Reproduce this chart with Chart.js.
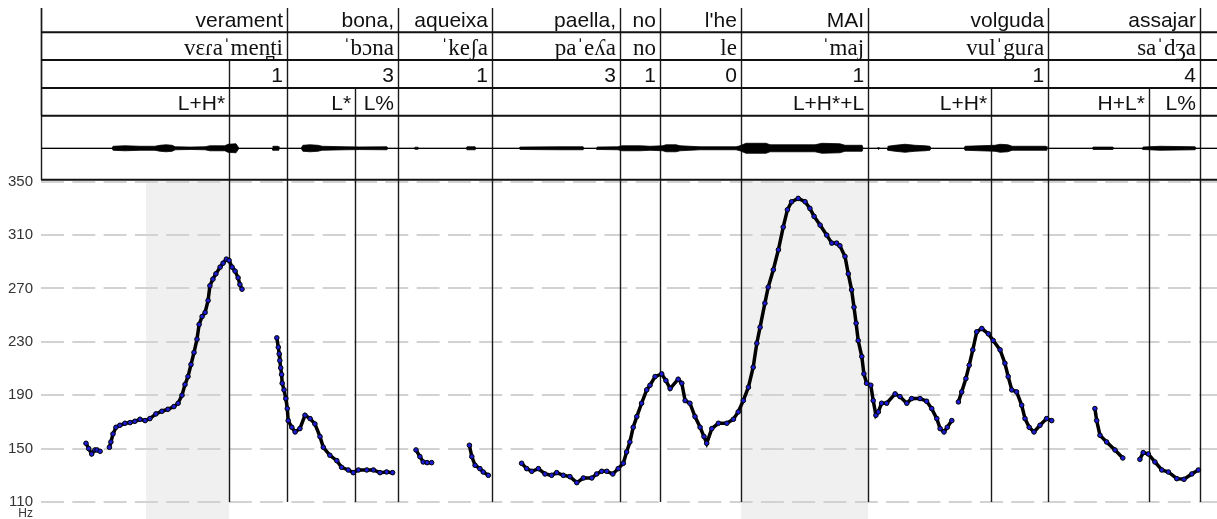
<!DOCTYPE html>
<html>
<head>
<meta charset="utf-8">
<title>verament bona aqueixa paella</title>
<script src="https://cdn.jsdelivr.net/npm/chart.js"></script>
<style>
  html, body { margin: 0; padding: 0; background: #fff; }
  canvas { display: block; }
</style>
</head>
<body>
<canvas id="pitchChart" width="1217" height="519"></canvas>
<script>
// time axis in seconds, pitch in Hz
var tMax = 3.92;
var yTicks = [110, 150, 190, 230, 270, 310, 350];

// tier 1: words
var wordBounds = [0, 0.820, 1.190, 1.503, 1.930, 2.063, 2.333, 2.757, 3.357, 3.863];
var words = ["verament", "bona,", "aqueixa", "paella,", "no", "l'he", "MAI", "volguda", "assajar"];
// tier 2: transcription (same intervals as the words)
var ipaWords = ["vɛɾaˈmen̪ti", "ˈbɔna", "ˈkeʃa", "paˈeʎa", "no", "le", "ˈmaj", "vulˈguɾa", "saˈdʒa"];
// tier 3: break indices
var breakBounds = [0, 0.627, 0.820, 1.190, 1.503, 1.930, 2.063, 2.333, 2.757, 3.357, 3.863];
var breaks = ["", "1", "3", "1", "3", "1", "0", "1", "1", "4"];
// tier 4: tones
var toneBounds = [0, 0.627, 0.820, 1.047, 1.190, 1.503, 1.930, 2.063, 2.333, 2.757, 3.167, 3.357, 3.693, 3.863];
var tones = ["L+H*", "", "L*", "L%", "", "", "", "", "L+H*+L", "L+H*", "", "H+L*", "L%"];

// shaded stressed syllables
var focusStart = [0.350, 2.333];
var focusEnd = [0.627, 2.757];

// pitch track (null = unvoiced gap)
var pitchT = [
  0.150, 0.159, 0.169, 0.180, 0.187, 0.197, null,
  0.228, 0.233, 0.240, 0.250, 0.263, 0.280, 0.297, 0.313, 0.330, 0.347, 0.363, 0.383, 0.403, 0.423,
  0.443, 0.457, 0.470, 0.480, 0.490, 0.500, 0.510, 0.520, 0.527, 0.537, 0.547, 0.557, 0.563, 0.573,
  0.583, 0.597, 0.607, 0.618, 0.627, 0.637, 0.647, 0.657, 0.663, 0.670, null,
  0.786, 0.791, 0.794, 0.796, 0.799, 0.802, 0.804, 0.810, 0.816, 0.821, 0.824, 0.836, 0.847, 0.863,
  0.880, 0.897, 0.913, 0.930, 0.941, 0.963, 0.986, 1.002, 1.024, 1.041, 1.058, 1.086, 1.108, 1.130,
  1.152, 1.172, null,
  1.250, 1.263, 1.274, 1.287, 1.302, null,
  1.428, 1.436, 1.447, 1.463, 1.474, 1.491, null,
  1.602, 1.619, 1.636, 1.658, 1.680, 1.702, 1.719, 1.741, 1.763, 1.786, 1.808, 1.836, 1.852, 1.869,
  1.886, 1.906, 1.924, 1.941, 1.952, 1.963, 1.974, 1.986, 2.002, 2.019, 2.030, 2.047, 2.069, 2.083,
  2.097, 2.124, 2.136, 2.147, 2.163, 2.180, 2.197, 2.210, 2.219, 2.236, 2.258, 2.286, 2.308, 2.324,
  2.341, 2.358, 2.374, 2.386, 2.397, 2.413, 2.424, 2.441, 2.458, 2.474, 2.488, 2.502, 2.524, 2.547,
  2.563, 2.577, 2.597, 2.619, 2.636, 2.652, 2.663, 2.680, 2.691, 2.702, 2.710, 2.717, 2.724, 2.736,
  2.743, 2.752, 2.766, 2.774, 2.783, 2.791, 2.802, 2.819, 2.847, 2.863, 2.886, 2.902, 2.930, 2.952,
  2.969, 2.986, 2.997, 3.010, 3.021, 3.036, null,
  3.058, 3.069, 3.083, 3.094, 3.106, 3.119, 3.136, 3.158, 3.174, 3.197, 3.213, 3.224, 3.236, 3.252,
  3.269, 3.280, 3.294, 3.310, 3.330, 3.352, 3.369, null,
  3.513, 3.519, 3.530, 3.552, 3.580, 3.606, null,
  3.663, 3.674, 3.691, 3.713, 3.736, 3.758, 3.786, 3.810, 3.836, 3.858
];
var pitchHz = [
  154, 150, 146, 149, 149, 148, null,
  151, 155, 161, 166, 167.5, 169, 169.5, 170.5, 172, 171, 172.5, 176, 178, 179.5,
  181.5, 184, 190, 198, 204, 213, 222, 232, 243, 249, 252, 261, 272, 277,
  281, 286, 289, 292, 291, 286, 283, 278, 273, 269.5, null,
  233, 226, 221, 216, 210.5, 205.5, 199, 194, 187.5, 180, 171, 166, 162.5, 165,
  175, 172.5, 168.5, 159, 151, 145, 141, 136, 134, 132, 134, 134, 134, 132,
  132.5, 132, null,
  149, 144, 140, 139.5, 139.5, null,
  152.5, 144, 137.5, 135, 132.5, 130, null,
  139, 135, 133, 135, 131, 130, 132, 130, 129, 124.5, 128, 128, 131, 133,
  133, 131, 135, 139, 147.5, 155, 166, 174, 184, 194, 197.5, 204, 206, 201,
  195, 202, 199, 186, 184, 174, 166, 159, 154, 165, 169, 169, 172, 177.5,
  186, 196, 211, 229, 241, 259, 271, 284, 299, 316, 329, 335, 337.5, 335,
  330, 324, 317.5, 310, 304, 304, 302, 294, 281, 269, 256, 244, 231, 219,
  206, 199, 197.5, 186, 175, 177.5, 184, 184, 191, 189, 184, 187.5, 187.5, 185.5,
  180, 172.5, 165, 162.5, 166, 171, null,
  185, 192.5, 202.5, 212.5, 224, 237.5, 240, 236, 231, 224, 214, 204, 194, 192.5,
  182.5, 172.5, 166, 162.5, 167.5, 172.5, 171, null,
  180, 171, 160, 155, 149, 143, null,
  142, 147, 146, 140, 134, 132.5, 127.5, 127, 131, 134
];

// waveform envelope (relative amplitude)
var waveT = [
  0, 0.237, 0.240, 0.280, 0.330, 0.380, 0.397, 0.417, 0.437, 0.447, 0.497, 0.547, 0.563, 0.613,
  0.623, 0.650, 0.660, 0.770, 0.773, 0.790, 0.793, 0.867, 0.873, 0.897, 0.923, 0.937, 1.013, 1.063,
  1.153, 1.157, 1.243, 1.247, 1.257, 1.260, 1.417, 1.420, 1.447, 1.450, 1.593, 1.597, 1.730, 1.807,
  1.810, 1.850, 1.853, 1.923, 1.937, 1.997, 2.030, 2.073, 2.083, 2.117, 2.130, 2.197, 2.317, 2.330,
  2.350, 2.417, 2.430, 2.530, 2.580, 2.603, 2.663, 2.680, 2.737, 2.740, 2.787, 2.790, 2.793, 2.820,
  2.823, 2.847, 2.880, 2.913, 2.947, 2.963, 2.967, 3.077, 3.080, 3.130, 3.180, 3.197, 3.223, 3.237,
  3.350, 3.353, 3.503, 3.507, 3.573, 3.577, 3.670, 3.673, 3.730, 3.847, 3.850, 3.920
];
var waveAmp = [
  0, 0, 2, 2.5, 2, 2, 3, 3.5, 3, 1.5, 1.2, 1.5, 2.5, 2.5,
  4, 4.5, 0, 0, 2, 2, 0, 0, 3, 3.5, 3, 2, 1.5, 1.3,
  1.5, 0, 0, 1, 1, 0, 0, 1.5, 1.5, 0, 0, 1.2, 1.5, 1.5,
  0, 0, 1.2, 1.5, 2.5, 2.5, 2, 2.5, 3.5, 3.5, 2.5, 1.5, 1.5, 2.5,
  5, 5, 3.5, 3.5, 3.5, 5, 4.5, 3, 3, 0, 0, 1, 0, 0,
  2, 3, 4, 3, 2.5, 2, 0, 0, 2, 2.5, 3, 4, 3.5, 2,
  2, 0, 0, 1.2, 1.2, 0, 0, 1.2, 2, 1.5, 0, 0
];

var sansFont = '"Liberation Sans", Arial, sans-serif';
var serifFont = '"Liberation Serif", "DejaVu Serif", serif';

var pitchData = [];
for (var i = 0; i < pitchT.length; i++) {
    var t = pitchT[i] === null ? pitchT[i - 1] : pitchT[i];
    pitchData.push({ x: t, y: pitchHz[i] });
}
var waveUp = [];
var waveDown = [];
for (var j = 0; j < waveT.length; j++) {
    waveUp.push({ x: waveT[j], y: waveAmp[j] });
    waveDown.push({ x: waveT[j], y: -waveAmp[j] });
}

function drawTier(ctx, x, bounds, labels, top, bottom, font) {
    ctx.beginPath();
    for (var i = 0; i < bounds.length; i++) {
        var px = Math.round(x.getPixelForValue(bounds[i])) + 0.5;
        ctx.moveTo(px, top);
        ctx.lineTo(px, bottom);
    }
    ctx.stroke();
    ctx.font = font;
    ctx.textAlign = 'right';
    ctx.textBaseline = 'alphabetic';
    for (var k = 0; k < labels.length; k++) {
        if (!labels[k]) continue;
        ctx.fillText(labels[k], x.getPixelForValue(bounds[k + 1]) - 4, bottom - 5.5);
    }
}

var tierPlugin = {
    id: 'tiers',
    beforeDraw: function (chart) {
        var ctx = chart.ctx, x = chart.scales.x, y = chart.scales.y;
        var sigTop = y.getPixelForValue(yTicks[yTicks.length - 1]) - 2;
        ctx.save();
        ctx.fillStyle = '#f0f0f0';
        for (var i = 0; i < focusStart.length; i++) {
            var x1 = x.getPixelForValue(focusStart[i]);
            var x2 = x.getPixelForValue(focusEnd[i]);
            ctx.fillRect(x1, sigTop, x2 - x1, chart.height - sigTop);
        }
        ctx.restore();
    },
    beforeDatasetsDraw: function (chart) {
        var ctx = chart.ctx, x = chart.scales.x, y = chart.scales.y, yw = chart.scales.yw;
        var area = chart.chartArea;
        var sigTop = y.getPixelForValue(yTicks[yTicks.length - 1]) - 2;
        var rowH = 27.8;
        var base = area.top + 0.7;
        var rowLines = [base - 3 * rowH, base - 2 * rowH, base - rowH, base];
        var tierTop = 8;
        ctx.save();
        ctx.strokeStyle = '#1a1a1a';
        ctx.fillStyle = '#111';
        ctx.lineWidth = 1.4;

        // all boundaries through waveform and pitch panes
        var all = [];
        [wordBounds, breakBounds, toneBounds].forEach(function (b) {
            b.forEach(function (v) { if (v > 0 && all.indexOf(v) < 0) all.push(v); });
        });
        ctx.beginPath();
        all.forEach(function (v) {
            var px = Math.round(x.getPixelForValue(v)) + 0.5;
            ctx.moveTo(px, area.top);
            ctx.lineTo(px, area.bottom);
        });
        ctx.stroke();

        drawTier(ctx, x, wordBounds, words, tierTop, rowLines[0], '21px ' + sansFont);
        drawTier(ctx, x, wordBounds, ipaWords, rowLines[0], rowLines[1], '23px ' + serifFont);
        drawTier(ctx, x, breakBounds, breaks, rowLines[1], rowLines[2], '21px ' + sansFont);
        drawTier(ctx, x, toneBounds, tones, rowLines[2], rowLines[3], '21px ' + sansFont);

        // left border of the tier box
        ctx.beginPath();
        ctx.moveTo(area.left + 0.5, tierTop);
        ctx.lineTo(area.left + 0.5, sigTop);
        ctx.stroke();

        // horizontal rules
        ctx.lineWidth = 2;
        ctx.strokeStyle = '#111';
        ctx.beginPath();
        rowLines.concat([sigTop]).forEach(function (ly) {
            ctx.moveTo(area.left, ly);
            ctx.lineTo(area.right, ly);
        });
        ctx.stroke();

        // waveform zero line
        ctx.lineWidth = 1;
        ctx.beginPath();
        var zy = Math.round(yw.getPixelForValue(0)) + 0.5;
        ctx.moveTo(area.left, zy);
        ctx.lineTo(area.right, zy);
        ctx.stroke();

        // unit label
        ctx.font = '12px ' + sansFont;
        ctx.fillStyle = '#333';
        ctx.textAlign = 'right';
        ctx.fillText('Hz', area.left - 8, chart.height - 2);
        ctx.restore();
    }
};

var ctxP = document.getElementById('pitchChart').getContext('2d');
var pitchChart = new Chart(ctxP, {
    type: 'line',
    data: {
        datasets: [{
            label: 'F0',
            data: pitchData,
            yAxisID: 'y',
            borderColor: '#000',
            borderWidth: 3.5,
            pointRadius: 2.3,
            pointBackgroundColor: '#1c1cd6',
            pointBorderColor: '#000',
            pointBorderWidth: 1,
            spanGaps: false,
            tension: 0,
            fill: false
        }, {
            label: 'wave+',
            data: waveUp,
            yAxisID: 'yw',
            borderColor: '#000',
            borderWidth: 0.8,
            pointRadius: 0,
            backgroundColor: '#000',
            fill: 'origin',
            tension: 0
        }, {
            label: 'wave-',
            data: waveDown,
            yAxisID: 'yw',
            borderColor: '#000',
            borderWidth: 0.8,
            pointRadius: 0,
            backgroundColor: '#000',
            fill: 'origin',
            tension: 0
        }]
    },
    options: {
        responsive: false,
        animation: false,
        devicePixelRatio: 1,
        layout: { autoPadding: false, padding: { top: 115, bottom: 17, left: 0, right: 0 } },
        plugins: {
            legend: { display: false },
            tooltip: { enabled: false }
        },
        scales: {
            x: { type: 'linear', min: 0, max: tMax, display: false },
            y: {
                type: 'linear',
                min: 110,
                max: 400,
                afterBuildTicks: function (s) {
                    s.ticks = yTicks.map(function (v) { return { value: v }; });
                },
                afterFit: function (s) { s.width = 41; },
                grid: { color: '#d2d2d2', lineWidth: 2, drawTicks: false },
                border: { display: false, dash: [23, 8.3] },
                ticks: {
                    padding: 8,
                    color: '#333',
                    font: { family: sansFont, size: 15 }
                }
            },
            yw: { type: 'linear', min: -354, max: 33.3, display: false }
        }
    },
    plugins: [tierPlugin]
});
</script>
</body>
</html>
